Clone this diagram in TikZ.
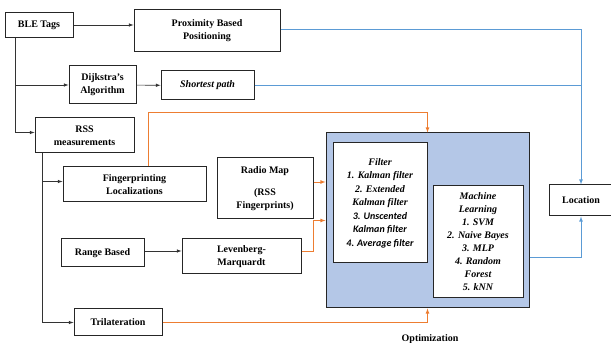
\documentclass[tikz,border=0pt]{standalone}
\usepackage{fontspec}
\setmainfont{Liberation Serif}
\newfontfamily\calibri{Carlito}
\usepackage{xcolor}
\usepackage{tikz}
\usetikzlibrary{calc}

\definecolor{optblue}{HTML}{B4C7E7}
\definecolor{linkblue}{HTML}{5B9BD5}
\definecolor{linkorange}{HTML}{ED7D31}

\tikzset{
  box/.style={draw=black!85, line width=1pt, fill=white, align=center, inner sep=2pt,
              font=\fontsize{10}{13}\selectfont\bfseries},
  blk/.style={->, line width=0.6pt, black!80},
  org/.style={->, line width=0.8pt, linkorange},
  blu/.style={->, line width=0.8pt, linkblue},
}

\begin{document}
\begin{tikzpicture}[x=1pt, y=1pt, >=latex]
  \useasboundingbox (0,0) rectangle (611,343);

  % left column
  \node[box, minimum width=68, minimum height=25] (ble) at (39,318) {BLE Tags};
  \node[box, minimum width=146, minimum height=42] (prox) at (207,312) {Proximity Based\\Positioning};
  \node[box, minimum width=67, minimum height=38] (dij) at (102.5,258) {Dijkstra's\\Algorithm};
  \node[box, minimum width=93, minimum height=29, font=\fontsize{10}{13}\selectfont\bfseries\itshape] (path) at (207.5,257.5) {Shortest path};
  \node[box, minimum width=99, minimum height=35] (rss) at (84.5,207.5) {RSS\\measurements};
  \node[box, minimum width=143, minimum height=35] (fp) at (134.5,158.5) {Fingerprinting\\Localizations};
  \node[box, minimum width=96, minimum height=61] (radio) at (265,154.5) {Radio Map\\[9pt](RSS\\Fingerprints)};
  \node[box, minimum width=83, minimum height=28] (range) at (102.5,90) {Range Based};
  \node[box, minimum width=119, minimum height=35] (lev) at (241.5,86.5) {Levenberg-\\Marquardt};
  \node[box, minimum width=88, minimum height=27] (tri) at (118,20.5) {Trilateration};

  % optimization block
  \node[box, fill=optblue, minimum width=203, minimum height=175] (opt) at (427.5,122.5) {};
  \node[box, minimum width=94, minimum height=120, font=\fontsize{10}{13.5}\selectfont\bfseries\itshape] (filter) at (380,140)
    {Filter\\1. Kalman filter\\2. Extended\\Kalman filter\\{\calibri 3. Unscented}\\{\calibri Kalman filter}\\{\calibri 4. Average filter}};
  \node[box, minimum width=90, minimum height=112, font=\fontsize{10}{13}\selectfont\bfseries\itshape] (ml) at (478,101)
    {Machine\\Learning\\1. SVM\\2. Naive Bayes\\3. MLP\\4. Random\\Forest\\5. kNN};
  \node[font=\fontsize{10}{13}\selectfont\bfseries] (optlabel) at (430,4) {Optimization};
  \node[box, minimum width=64, minimum height=31] (loc) at (581,142.5) {Location};

  % black links
  \draw[blk] (ble) -- (ble -| prox.west);
  \draw[blk] ([xshift=-24pt]ble.south) |- (dij);
  \draw[blk] ([xshift=-24pt]ble.south) |- ([yshift=3pt]rss.west);
  \draw[blk] (dij) -- (path);
  \draw[blk] ([xshift=-42pt]rss.south) |- ([yshift=3pt]fp.west);
  \draw[blk] ([xshift=-42pt]rss.south) |- (tri);
  \draw[blk] ([yshift=2pt]range.east) -- ([yshift=2pt]range.east -| lev.west);

  % orange links
  \draw[org] ([xshift=14pt]fp.north) |- ($(opt.north)+(0,20)$) -- (opt.north);
  \draw[org] ([yshift=6.5pt]radio.east) -- ([yshift=6.5pt]radio.east -| opt.west);
  \draw[org] ([yshift=5pt]lev.east) -- ++(12,0) |- (opt.west);
  \draw[org] (tri) -| (opt.south);

  % blue links
  \draw[blu] ([yshift=2pt]prox.east) -| (loc.north);
  \draw[line width=0.8pt, linkblue] (path) -- (path -| loc.north);
  \draw[blu] ([yshift=-36.5pt]opt.east) -| (loc.south);
\end{tikzpicture}
\end{document}
